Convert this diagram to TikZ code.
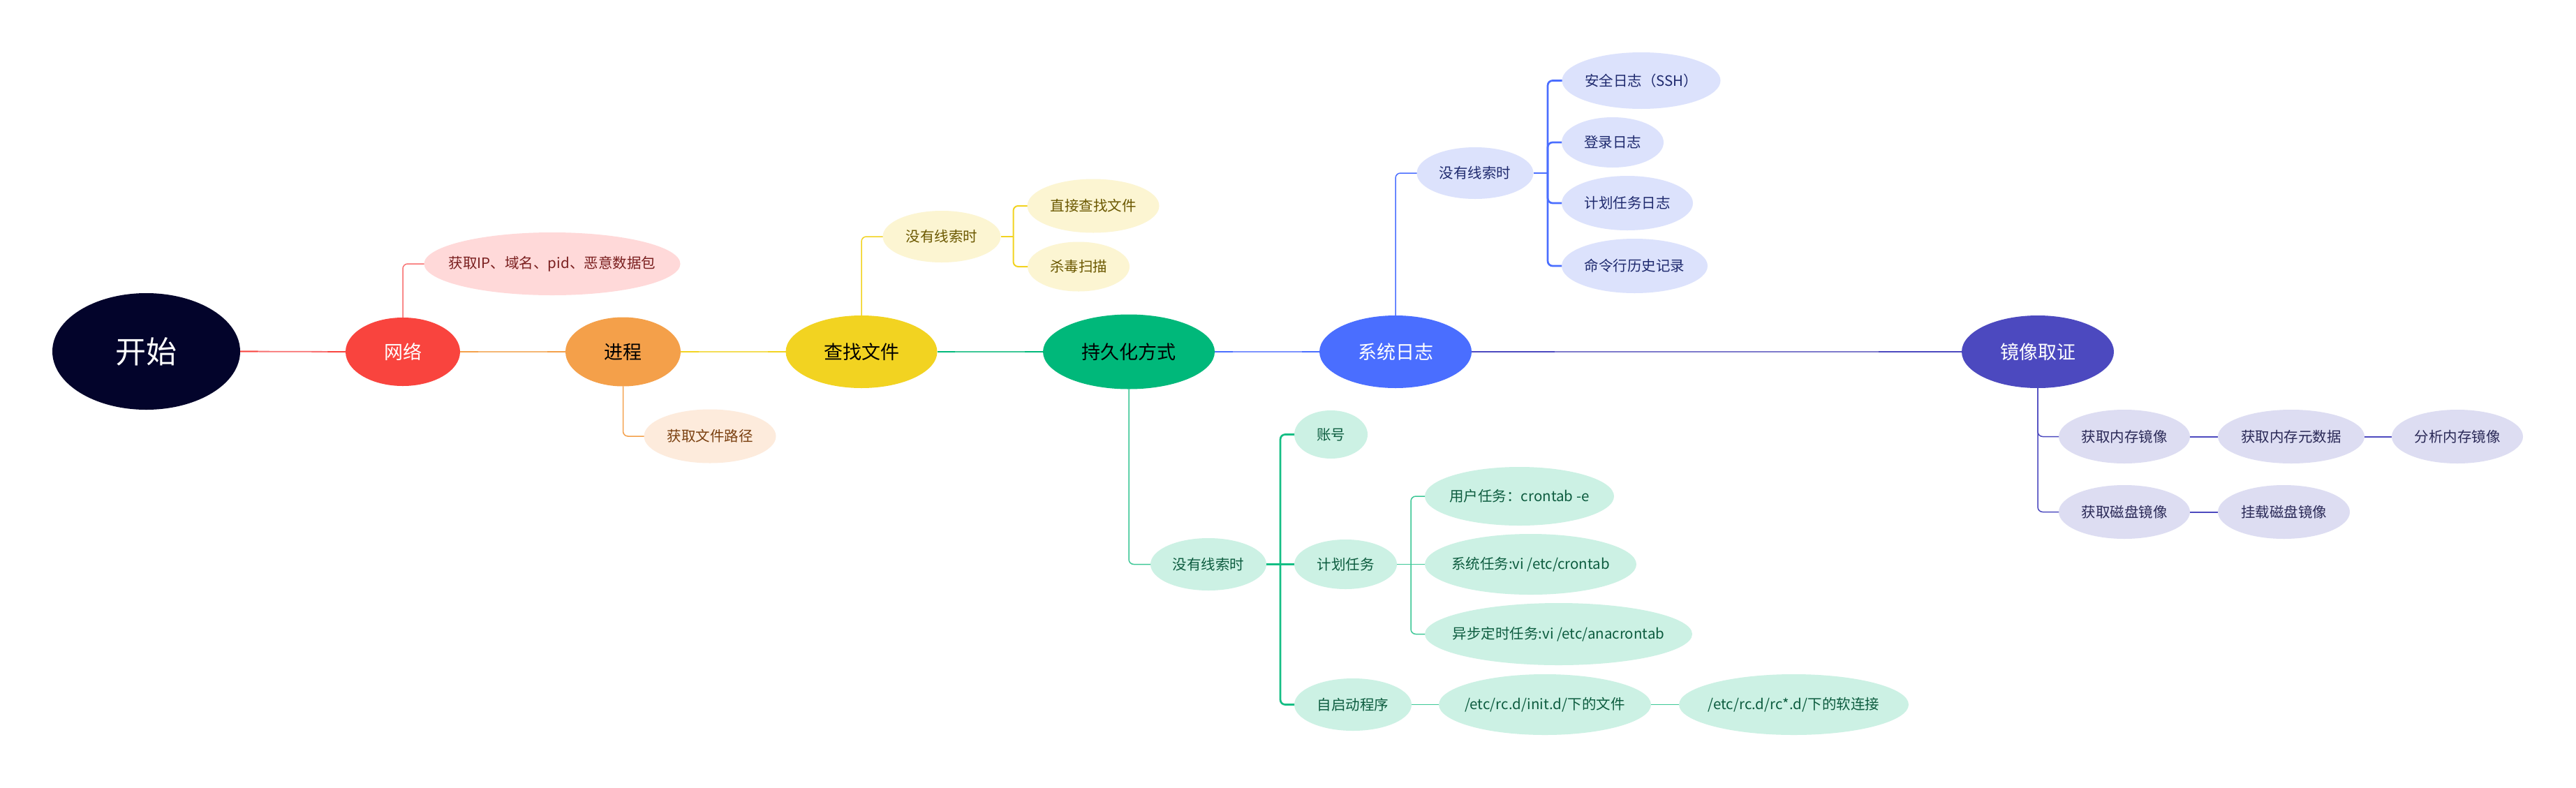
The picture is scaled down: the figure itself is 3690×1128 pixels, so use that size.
\documentclass[tikz,border=0pt]{standalone}
\usepackage{fontspec}
\setmainfont{Noto Sans CJK SC}
\usetikzlibrary{shapes.geometric,calc}
\definecolor{rootc}{HTML}{03042B}
\definecolor{redc}{HTML}{F9443E}
\definecolor{redl}{HTML}{F87070}
\definecolor{redf}{HTML}{FFD9D9}
\definecolor{redt}{HTML}{7A1F1F}
\definecolor{orac}{HTML}{F4A04A}
\definecolor{oral}{HTML}{F5B673}
\definecolor{oraf}{HTML}{FDEBDC}
\definecolor{orat}{HTML}{7A4010}
\definecolor{yelc}{HTML}{F2D321}
\definecolor{yell}{HTML}{F4DD55}
\definecolor{yelf}{HTML}{FCF5D2}
\definecolor{yelt}{HTML}{6B5800}
\definecolor{grnc}{HTML}{00B87A}
\definecolor{grnb}{HTML}{14BE84}
\definecolor{grnl}{HTML}{3CC796}
\definecolor{grnf}{HTML}{CCF1E4}
\definecolor{grnt}{HTML}{0D5C3F}
\definecolor{bluc}{HTML}{4A6EFF}
\definecolor{blul}{HTML}{7C93FF}
\definecolor{bluf}{HTML}{DCE2FC}
\definecolor{blut}{HTML}{1F2A6E}
\definecolor{purc}{HTML}{4C49BF}
\definecolor{purl}{HTML}{7E7ACC}
\definecolor{purf}{HTML}{DDDDF2}
\definecolor{purt}{HTML}{2A2957}
\newcommand{\zbox}[1]{\makebox[0pt][c]{#1}}
\newcommand{\mainlink}[4]{%
  \draw[mainln,#4] (#1.east) -- (#2.west);
  \draw[mainln,#3] (#1.east) -- ($(#1.east)!0.17!(#2.west)$);
  \draw[mainln,#3] ($(#1.east)!0.83!(#2.west)$) -- (#2.west);}
\tikzset{
  bub/.style={ellipse, inner sep=0pt, outer sep=0pt},
  sz/.style 2 args={minimum width=#1, minimum height=#2},
  rootnode/.style={bub, fill=rootc, text=white, font=\fontsize{44}{50}\selectfont},
  mainnode/.style={bub, font=\fontsize{27}{32}\selectfont},
  leaf/.style={bub, font=\fontsize{20.5}{24}\selectfont},
  gR/.style={leaf, fill=redf, text=redt},
  gO/.style={leaf, fill=oraf, text=orat},
  gY/.style={leaf, fill=yelf, text=yelt},
  gG/.style={leaf, fill=grnf, text=grnt},
  gB/.style={leaf, fill=bluf, text=blut},
  gP/.style={leaf, fill=purf, text=purt},
  mainln/.style={line width=1.8pt},
  br/.style={line width=1.5pt, rounded corners=7pt},
  bus/.style={line width=2.7pt, rounded corners=7pt},
}
\begin{document}
\begin{tikzpicture}[x=1pt,y=-1pt]
\useasboundingbox (0,0) rectangle (3690,1128);
\fill[white] (0,0) rectangle (3690,1128);
% root and main nodes
\node[rootnode, sz={269}{167}] (root) at (209.5,503.5) {\zbox{开始}};
\node[mainnode, sz={164}{98}, fill=redc, text=white] (net) at (577,504) {\zbox{网络}};
\node[mainnode, sz={165}{99}, fill=orac, text=black] (proc) at (892.5,504) {\zbox{进程}};
\node[mainnode, sz={217}{104}, fill=yelc, text=black] (find) at (1234,504) {\zbox{查找文件}};
\node[mainnode, sz={246}{107}, fill=grnc, text=black] (pers) at (1617,504) {\zbox{持久化方式}};
\node[mainnode, sz={218}{104}, fill=bluc, text=white] (syslog) at (1999,504) {\zbox{系统日志}};
\node[mainnode, sz={218}{104}, fill=purc, text=white] (img) at (2919,504) {\zbox{镜像取证}};
% red / orange
\node[gR, sz={367}{90}] (ip) at (791,378) {\zbox{获取IP、域名、pid、恶意数据包}};
\node[gO, sz={189}{77}] (path) at (1017,625) {\zbox{获取文件路径}};
% yellow
\node[gY, sz={169}{74}] (ny) at (1349,339) {\zbox{没有线索时}};
\node[gY, sz={189}{77}] (direct) at (1566,295) {\zbox{直接查找文件}};
\node[gY, sz={146}{71}] (av) at (1545,382) {\zbox{杀毒扫描}};
% green
\node[gG, sz={166}{75}] (ng) at (1731,808.5) {\zbox{没有线索时}};
\node[gG, sz={105}{69}] (acct) at (1906.5,622.5) {\zbox{账号}};
\node[gG, sz={147}{71}] (plan) at (1927.5,808.5) {\zbox{计划任务}};
\node[gG, sz={168}{75}] (auto) at (1938,1009.5) {\zbox{自启动程序}};
\node[gG, sz={271}{84}] (user) at (2176.5,711) {\zbox{用户任务：crontab -e}};
\node[gG, sz={303}{87}] (sys) at (2192.5,808.5) {\zbox{系统任务:vi /etc/crontab}};
\node[gG, sz={383}{89}] (async) at (2232.5,908.5) {\zbox{异步定时任务:vi /etc/anacrontab}};
\node[gG, sz={304}{87}] (initd) at (2213,1009.5) {\zbox{/etc/rc.d/init.d/下的文件}};
\node[gG, sz={329}{87}] (rcd) at (2569.5,1009.5) {\zbox{/etc/rc.d/rc*.d/下的软连接}};
% blue
\node[gB, sz={167}{74}] (nb) at (2113,248) {\zbox{没有线索时}};
\node[gB, sz={227}{81}] (ssh) at (2351,115.5) {\zbox{安全日志（SSH）}};
\node[gB, sz={146}{72}] (login) at (2310,204) {\zbox{登录日志}};
\node[gB, sz={188}{78}] (cronlog) at (2331,291) {\zbox{计划任务日志}};
\node[gB, sz={209}{78}] (hist) at (2341.5,381) {\zbox{命令行历史记录}};
% purple
\node[gP, sz={188}{77}] (mem) at (3043,625.5) {\zbox{获取内存镜像}};
\node[gP, sz={210}{77}] (meta) at (3282,625.5) {\zbox{获取内存元数据}};
\node[gP, sz={188}{77}] (ana) at (3520,625.5) {\zbox{分析内存镜像}};
\node[gP, sz={188}{77}] (disk) at (3043,733.5) {\zbox{获取磁盘镜像}};
\node[gP, sz={189}{77}] (mount) at (3271.5,733.5) {\zbox{挂载磁盘镜像}};
% main links
\mainlink{root}{net}{redc}{redl}
\mainlink{net}{proc}{orac}{oral}
\mainlink{proc}{find}{yelc}{yell}
\mainlink{find}{pers}{grnc}{grnl}
\mainlink{pers}{syslog}{bluc}{blul}
\mainlink{syslog}{img}{purc}{purl}
% branches from main nodes
\draw[br, redl] (net.north) |- (ip.west);
\draw[br, orac] (proc.south) |- (path.west);
\draw[br, yelc] (find.north) |- (ny.west);
\draw[br, grnl] (pers.south) |- (ng.west);
\draw[br, bluc] (syslog.north) |- (nb.west);
\draw[br, purc] (img.south) |- (mem.west);
\draw[br, purc] (img.south) |- (disk.west);
% yellow bus
\coordinate (yb) at (1451.5,339);
\draw[line width=2pt, yelc] (ny.east) -- (yb);
\draw[line width=2pt, rounded corners=7pt, yelc] (yb) |- (direct.west);
\draw[line width=2pt, rounded corners=7pt, yelc] (yb) |- (av.west);
% blue bus
\coordinate (bb) at (2217,248);
\draw[bus, bluc] (nb.east) -- (bb);
\draw[bus, bluc] (bb) |- (ssh.west);
\draw[bus, bluc] (bb) |- (login.west);
\draw[bus, bluc] (bb) |- (cronlog.west);
\draw[bus, bluc] (bb) |- (hist.west);
% green bus
\coordinate (gb) at (1834,808.5);
\draw[bus, grnb] (ng.east) -- (gb);
\draw[bus, grnb] (gb) |- (acct.west);
\draw[bus, grnb] (gb) -- (plan.west);
\draw[bus, grnb] (gb) |- (auto.west);
% plan bus
\coordinate (pb) at (2021,808.5);
\draw[br, grnl] (plan.east) -- (pb);
\draw[br, grnl] (pb) |- (user.west);
\draw[br, grnl] (pb) -- (sys.west);
\draw[br, grnl] (pb) |- (async.west);
% chains
\draw[br, grnl] (auto.east) -- (initd.west);
\draw[br, grnl] (initd.east) -- (rcd.west);
\draw[line width=2pt, purc] (mem.east) -- (meta.west);
\draw[line width=2pt, purc] (meta.east) -- (ana.west);
\draw[line width=2pt, purc] (disk.east) -- (mount.west);
\end{tikzpicture}
\end{document}
